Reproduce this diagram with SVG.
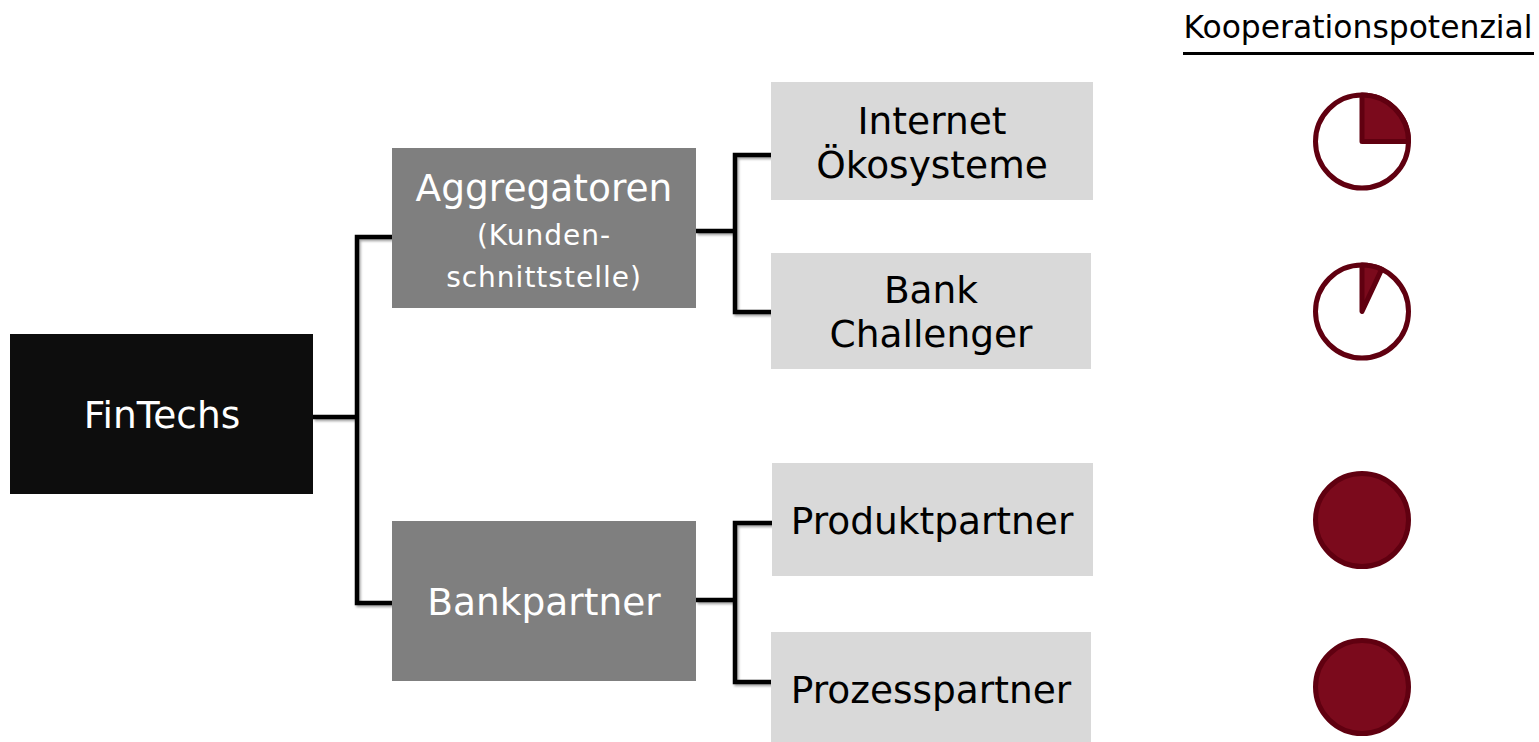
<svg xmlns="http://www.w3.org/2000/svg" width="1539" height="742" viewBox="0 0 1539 742">
<style>
text{font-family:"DejaVu Sans","Verdana",sans-serif;text-anchor:middle}
.w{fill:#ffffff}
.k{fill:#000000}
.big{font-size:37.5px}
.sm{font-size:28px;letter-spacing:1px}
.dark{fill:#0d0d0d}
.mid{fill:#7f7f7f}
.light{fill:#d9d9d9}
.conn{fill:none;stroke:#000;stroke-width:4.5;stroke-linejoin:miter}
.ring{fill:#ffffff;stroke:#600010;stroke-width:5}
.pie{fill:#7b0a1c;stroke:#600010;stroke-width:5;stroke-linejoin:round}
.full{fill:#7b0a1c;stroke:#600010;stroke-width:5}
</style>
<defs>
<filter id="sh" x="-10%" y="-10%" width="130%" height="130%">
<feDropShadow dx="1.5" dy="2" stdDeviation="1.2" flood-color="#000" flood-opacity="0.35"/>
</filter>
</defs>
<g id="connectors" filter="url(#sh)">
<path class="conn" d="M313,417 H357 M392,237 H357 V603 H392"/>
<path class="conn" d="M696,231 H735 M772,155 H735 V312 H772"/>
<path class="conn" d="M696,600 H735 M772,523 H735 V682 H772"/>
</g>
<g id="fintechs">
<rect class="dark" x="10" y="334" width="303" height="160"/>
<text class="w big" x="162" y="428">FinTechs</text>
</g>
<g id="aggregatoren">
<rect class="mid" x="392" y="148" width="304" height="160"/>
<text class="w big" x="544" y="201">Aggregatoren</text>
<text class="w sm" x="544" y="245">(Kunden-</text>
<text class="w sm" x="544" y="287">schnittstelle)</text>
</g>
<g id="bankpartner">
<rect class="mid" x="392" y="521" width="304" height="160"/>
<text class="w big" x="544" y="615">Bankpartner</text>
</g>
<g id="internet">
<rect class="light" x="771" y="82" width="322" height="118"/>
<text class="k big" x="932" y="134">Internet</text>
<text class="k big" x="932" y="178">Ökosysteme</text>
</g>
<g id="bankchallenger">
<rect class="light" x="771" y="253" width="320" height="116"/>
<text class="k big" x="931" y="303">Bank</text>
<text class="k big" x="931" y="347">Challenger</text>
</g>
<g id="produktpartner">
<rect class="light" x="772" y="463" width="321" height="113"/>
<text class="k big" x="932" y="534">Produktpartner</text>
</g>
<g id="prozesspartner">
<rect class="light" x="771" y="632" width="320" height="110"/>
<text class="k big" x="931" y="703">Prozesspartner</text>
</g>
<g id="legend">
<text class="k" x="1358" y="38" style="font-size:31.4px">Kooperationspotenzial</text>
<rect x="1183" y="52" width="351" height="3" fill="#000"/>
</g>
<g id="pie1">
<circle class="ring" cx="1362" cy="141.5" r="46.5"/>
<path class="pie" d="M1362,141.5 V95 A46.5,46.5 0 0 1 1408.5,141.5 Z"/>
</g>
<g id="pie2">
<circle class="ring" cx="1362" cy="311.5" r="46.5"/>
<path class="pie" d="M1362,311.5 V265 A46.5,46.5 0 0 1 1381.65,269.36 Z"/>
</g>
<g id="pie3">
<circle class="full" cx="1362" cy="520" r="46.5"/>
</g>
<g id="pie4">
<circle class="full" cx="1362" cy="687" r="46.5"/>
</g>
</svg>
